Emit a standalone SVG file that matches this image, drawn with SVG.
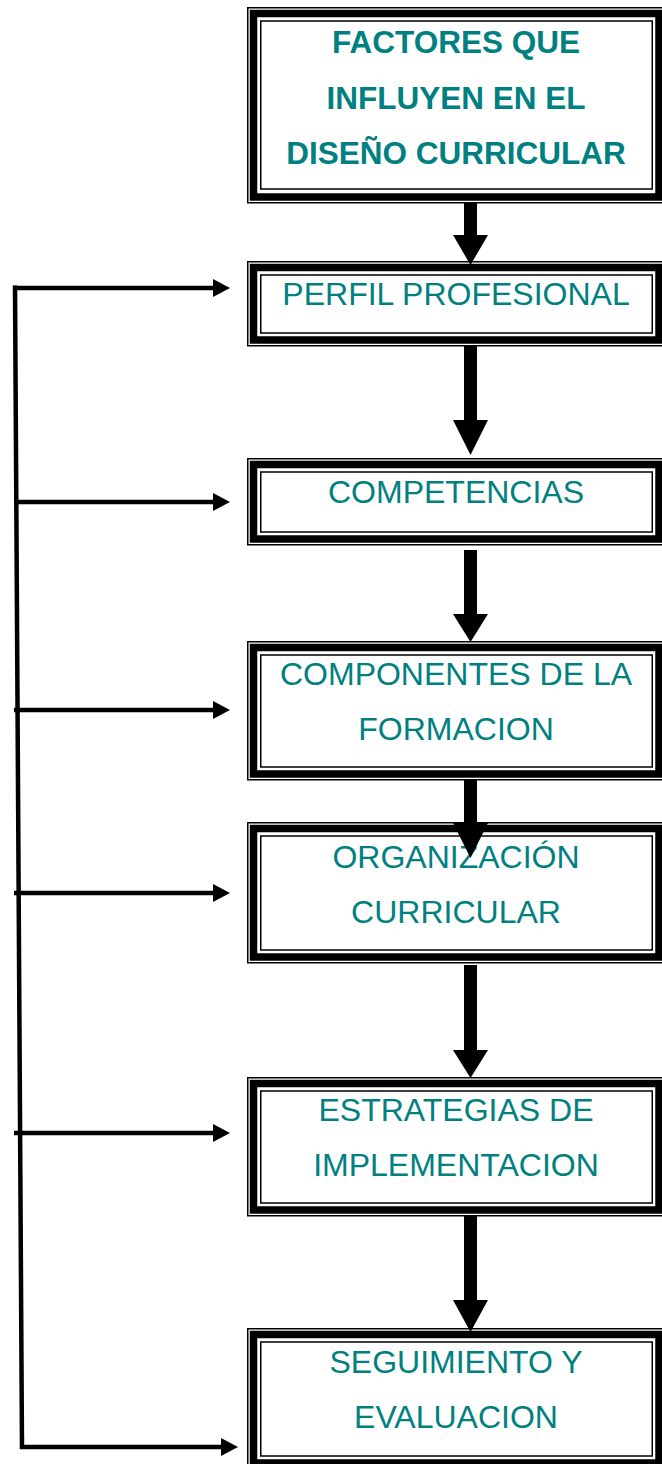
<svg xmlns="http://www.w3.org/2000/svg" width="662" height="1464" viewBox="0 0 662 1464">
<style>
.o{fill:#fff;stroke:#000;stroke-width:1.5}
.k{fill:none;stroke:#000;stroke-width:7.5}
.i{fill:none;stroke:#000;stroke-width:1.5}
.t{font-family:"Liberation Sans",Arial,sans-serif;font-size:32px;fill:#008080;text-anchor:middle}
.b{font-weight:bold;font-size:31.5px}
.h{fill:none;stroke:#000;stroke-width:4.5}
.a{fill:#000}
</style>
<rect width="662" height="1464" fill="#fff"/>
<g id="n1">
<rect class="o" x="247.75" y="7.75" width="417" height="195"/>
<rect class="k" x="253.5" y="13.5" width="405.5" height="183.5"/>
<rect class="i" x="260.75" y="21" width="391.5" height="168"/>
<text class="t b" x="456" y="53">FACTORES QUE</text>
<text class="t b" x="456" y="108.5">INFLUYEN EN EL</text>
<text class="t b" x="456" y="164">DISEÑO CURRICULAR</text>
</g>
<g id="n2">
<rect class="o" x="247.75" y="261.75" width="417" height="84"/>
<rect class="k" x="253.5" y="267.5" width="405.5" height="72.5"/>
<rect class="i" x="260.75" y="275" width="391.5" height="58"/>
<text class="t" x="456" y="305">PERFIL PROFESIONAL</text>
</g>
<g id="n3">
<rect class="o" x="247.75" y="458.75" width="417" height="86"/>
<rect class="k" x="253.5" y="464.5" width="405.5" height="74.5"/>
<rect class="i" x="260.75" y="472" width="391.5" height="60"/>
<text class="t" x="456" y="503">COMPETENCIAS</text>
</g>
<g id="n4">
<rect class="o" x="247.75" y="641.75" width="417" height="138"/>
<rect class="k" x="253.5" y="647.5" width="405.5" height="126.5"/>
<rect class="i" x="260.75" y="655" width="391.5" height="112"/>
<text class="t" x="456" y="685">COMPONENTES DE LA</text>
<text class="t" x="456" y="740">FORMACION</text>
</g>
<g id="n5">
<rect class="o" x="247.75" y="822.75" width="417" height="140"/>
<rect class="k" x="253.5" y="828.5" width="405.5" height="128.5"/>
<rect class="i" x="260.75" y="836" width="391.5" height="114"/>
<text class="t" x="456" y="868">ORGANIZACIÓN</text>
<text class="t" x="456" y="923">CURRICULAR</text>
</g>
<g id="n6">
<rect class="o" x="247.75" y="1077.75" width="417" height="138"/>
<rect class="k" x="253.5" y="1083.5" width="405.5" height="126.5"/>
<rect class="i" x="260.75" y="1091" width="391.5" height="112"/>
<text class="t" x="456" y="1121">ESTRATEGIAS DE</text>
<text class="t" x="456" y="1176">IMPLEMENTACION</text>
</g>
<g id="n7">
<rect class="o" x="247.75" y="1328.75" width="417" height="140"/>
<rect class="k" x="253.5" y="1334.5" width="405.5" height="128.5"/>
<rect class="i" x="260.75" y="1342" width="391.5" height="114"/>
<text class="t" x="456" y="1373">SEGUIMIENTO Y</text>
<text class="t" x="456" y="1428">EVALUACION</text>
</g>
<g id="connectors">
<polygon class="a" points="464,203 477,203 477,235 488,235 470.5,265 453,235 464,235"/>
<polygon class="a" points="464,346 477,346 477,420 488,420 470.5,455 453,420 464,420"/>
<polygon class="a" points="464,550 477,550 477,614 488,614 470.5,642 453,614 464,614"/>
<polygon class="a" points="464,780 477,780 477,823 488,823 470.5,858 453,823 464,823"/>
<polygon class="a" points="464,965 477,965 477,1050 488,1050 470.5,1078 453,1050 464,1050"/>
<polygon class="a" points="464,1216 477,1216 477,1300 488,1300 470.5,1332 453,1300 464,1300"/>
<line class="h" x1="15" y1="285.5" x2="22" y2="1449"/>
<line class="h" x1="13" y1="288" x2="214" y2="288"/>
<polygon class="a" points="213,279 230,288 213,297"/>
<line class="h" x1="14" y1="502" x2="214" y2="502"/>
<polygon class="a" points="213,493 230,502 213,511"/>
<line class="h" x1="14" y1="710" x2="214" y2="710"/>
<polygon class="a" points="213,701 230,710 213,719"/>
<line class="h" x1="14" y1="893" x2="214" y2="893"/>
<polygon class="a" points="213,884 230,893 213,902"/>
<line class="h" x1="14" y1="1133" x2="214" y2="1133"/>
<polygon class="a" points="213,1124 230,1133 213,1142"/>
<line class="h" x1="20" y1="1447" x2="222" y2="1447"/>
<polygon class="a" points="221,1438 238,1447 221,1456"/>
</g>
</svg>
